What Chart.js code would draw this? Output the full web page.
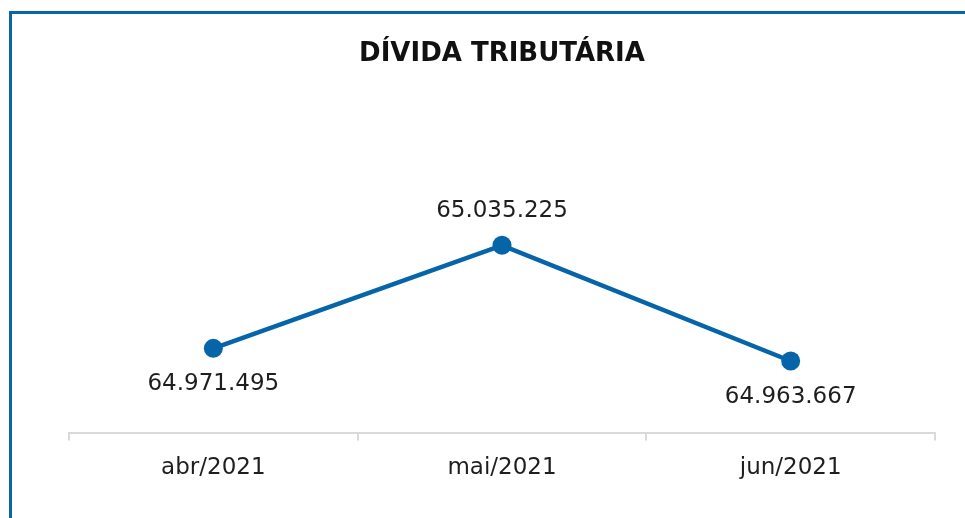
<!DOCTYPE html>
<html lang="pt">
<head>
    <meta charset="UTF-8">
    <title>Dívida Tributária</title>
    <script src="https://cdn.jsdelivr.net/npm/chart.js"></script>
    <style>
        html, body { margin: 0; padding: 0; background: #fff; }
        #frame {
            position: absolute; left: 9px; top: 11px; right: 0; bottom: 0;
            border-top: 3px solid #0866a8; border-left: 3px solid #0866a8;
        }
        #wrap { position: absolute; left: 0; top: 0; width: 965px; height: 518px; }
    </style>
</head>
<body>
    <div id="frame"></div>
    <div id="wrap"><canvas id="myChart" width="965" height="518"></canvas></div>
    <script>
        var meses = ['abr/2021', 'mai/2021', 'jun/2021'];
        var divida = [64971495, 65035225, 64963667];
        var yMin = 64918900;
        var yMax = 65118800;

        var azul = '#0565a8';
        var fonte = "'DejaVu Sans', sans-serif";

        function formatar(v) {
            return String(v).replace(/\B(?=(\d{3})+(?!\d))/g, '.');
        }

        // rótulos de dados: acima do maior valor, abaixo dos outros
        var rotulos = {
            id: 'rotulos',
            afterDatasetsDraw: function (chart) {
                var ctx = chart.ctx;
                var meta = chart.getDatasetMeta(0);
                var dados = chart.data.datasets[0].data;
                var maior = Math.max.apply(null, dados);
                ctx.save();
                ctx.font = '23px ' + fonte;
                ctx.fillStyle = '#1e1e1e';
                ctx.textAlign = 'center';
                ctx.textBaseline = 'middle';
                meta.data.forEach(function (p, i) {
                    var dy = dados[i] === maior ? -34 : 36;
                    ctx.fillText(formatar(dados[i]), p.x, p.y + dy);
                });
                ctx.restore();
            }
        };

        new Chart(document.getElementById('myChart'), {
            type: 'line',
            data: {
                labels: meses,
                datasets: [{
                    data: divida,
                    borderColor: azul,
                    backgroundColor: azul,
                    borderWidth: 4.5,
                    pointRadius: 9.5,
                    pointHoverRadius: 9.5,
                    pointBackgroundColor: azul,
                    pointBorderWidth: 0,
                    tension: 0
                }]
            },
            options: {
                responsive: false,
                animation: false,
                layout: { padding: { left: 69, right: 30, top: 0, bottom: 22 } },
                plugins: {
                    legend: { display: false },
                    tooltip: { enabled: false },
                    title: {
                        display: true,
                        text: 'DÍVIDA TRIBUTÁRIA',
                        color: '#111',
                        font: { family: fonte, size: 26, weight: 'bold', lineHeight: 1.2 },
                        padding: { top: 39, bottom: 40 }
                    }
                },
                scales: {
                    x: {
                        offset: true,
                        grid: {
                            offset: true,
                            drawOnChartArea: false,
                            drawTicks: true,
                            tickLength: 7,
                            color: '#d9d9d9',
                            lineWidth: 2
                        },
                        border: { display: true, color: '#d9d9d9', width: 2 },
                        ticks: {
                            color: '#1e1e1e',
                            padding: 14,
                            font: { family: fonte, size: 23 }
                        }
                    },
                    y: {
                        display: false,
                        min: yMin,
                        max: yMax
                    }
                }
            },
            plugins: [rotulos]
        });
    </script>
</body>
</html>
